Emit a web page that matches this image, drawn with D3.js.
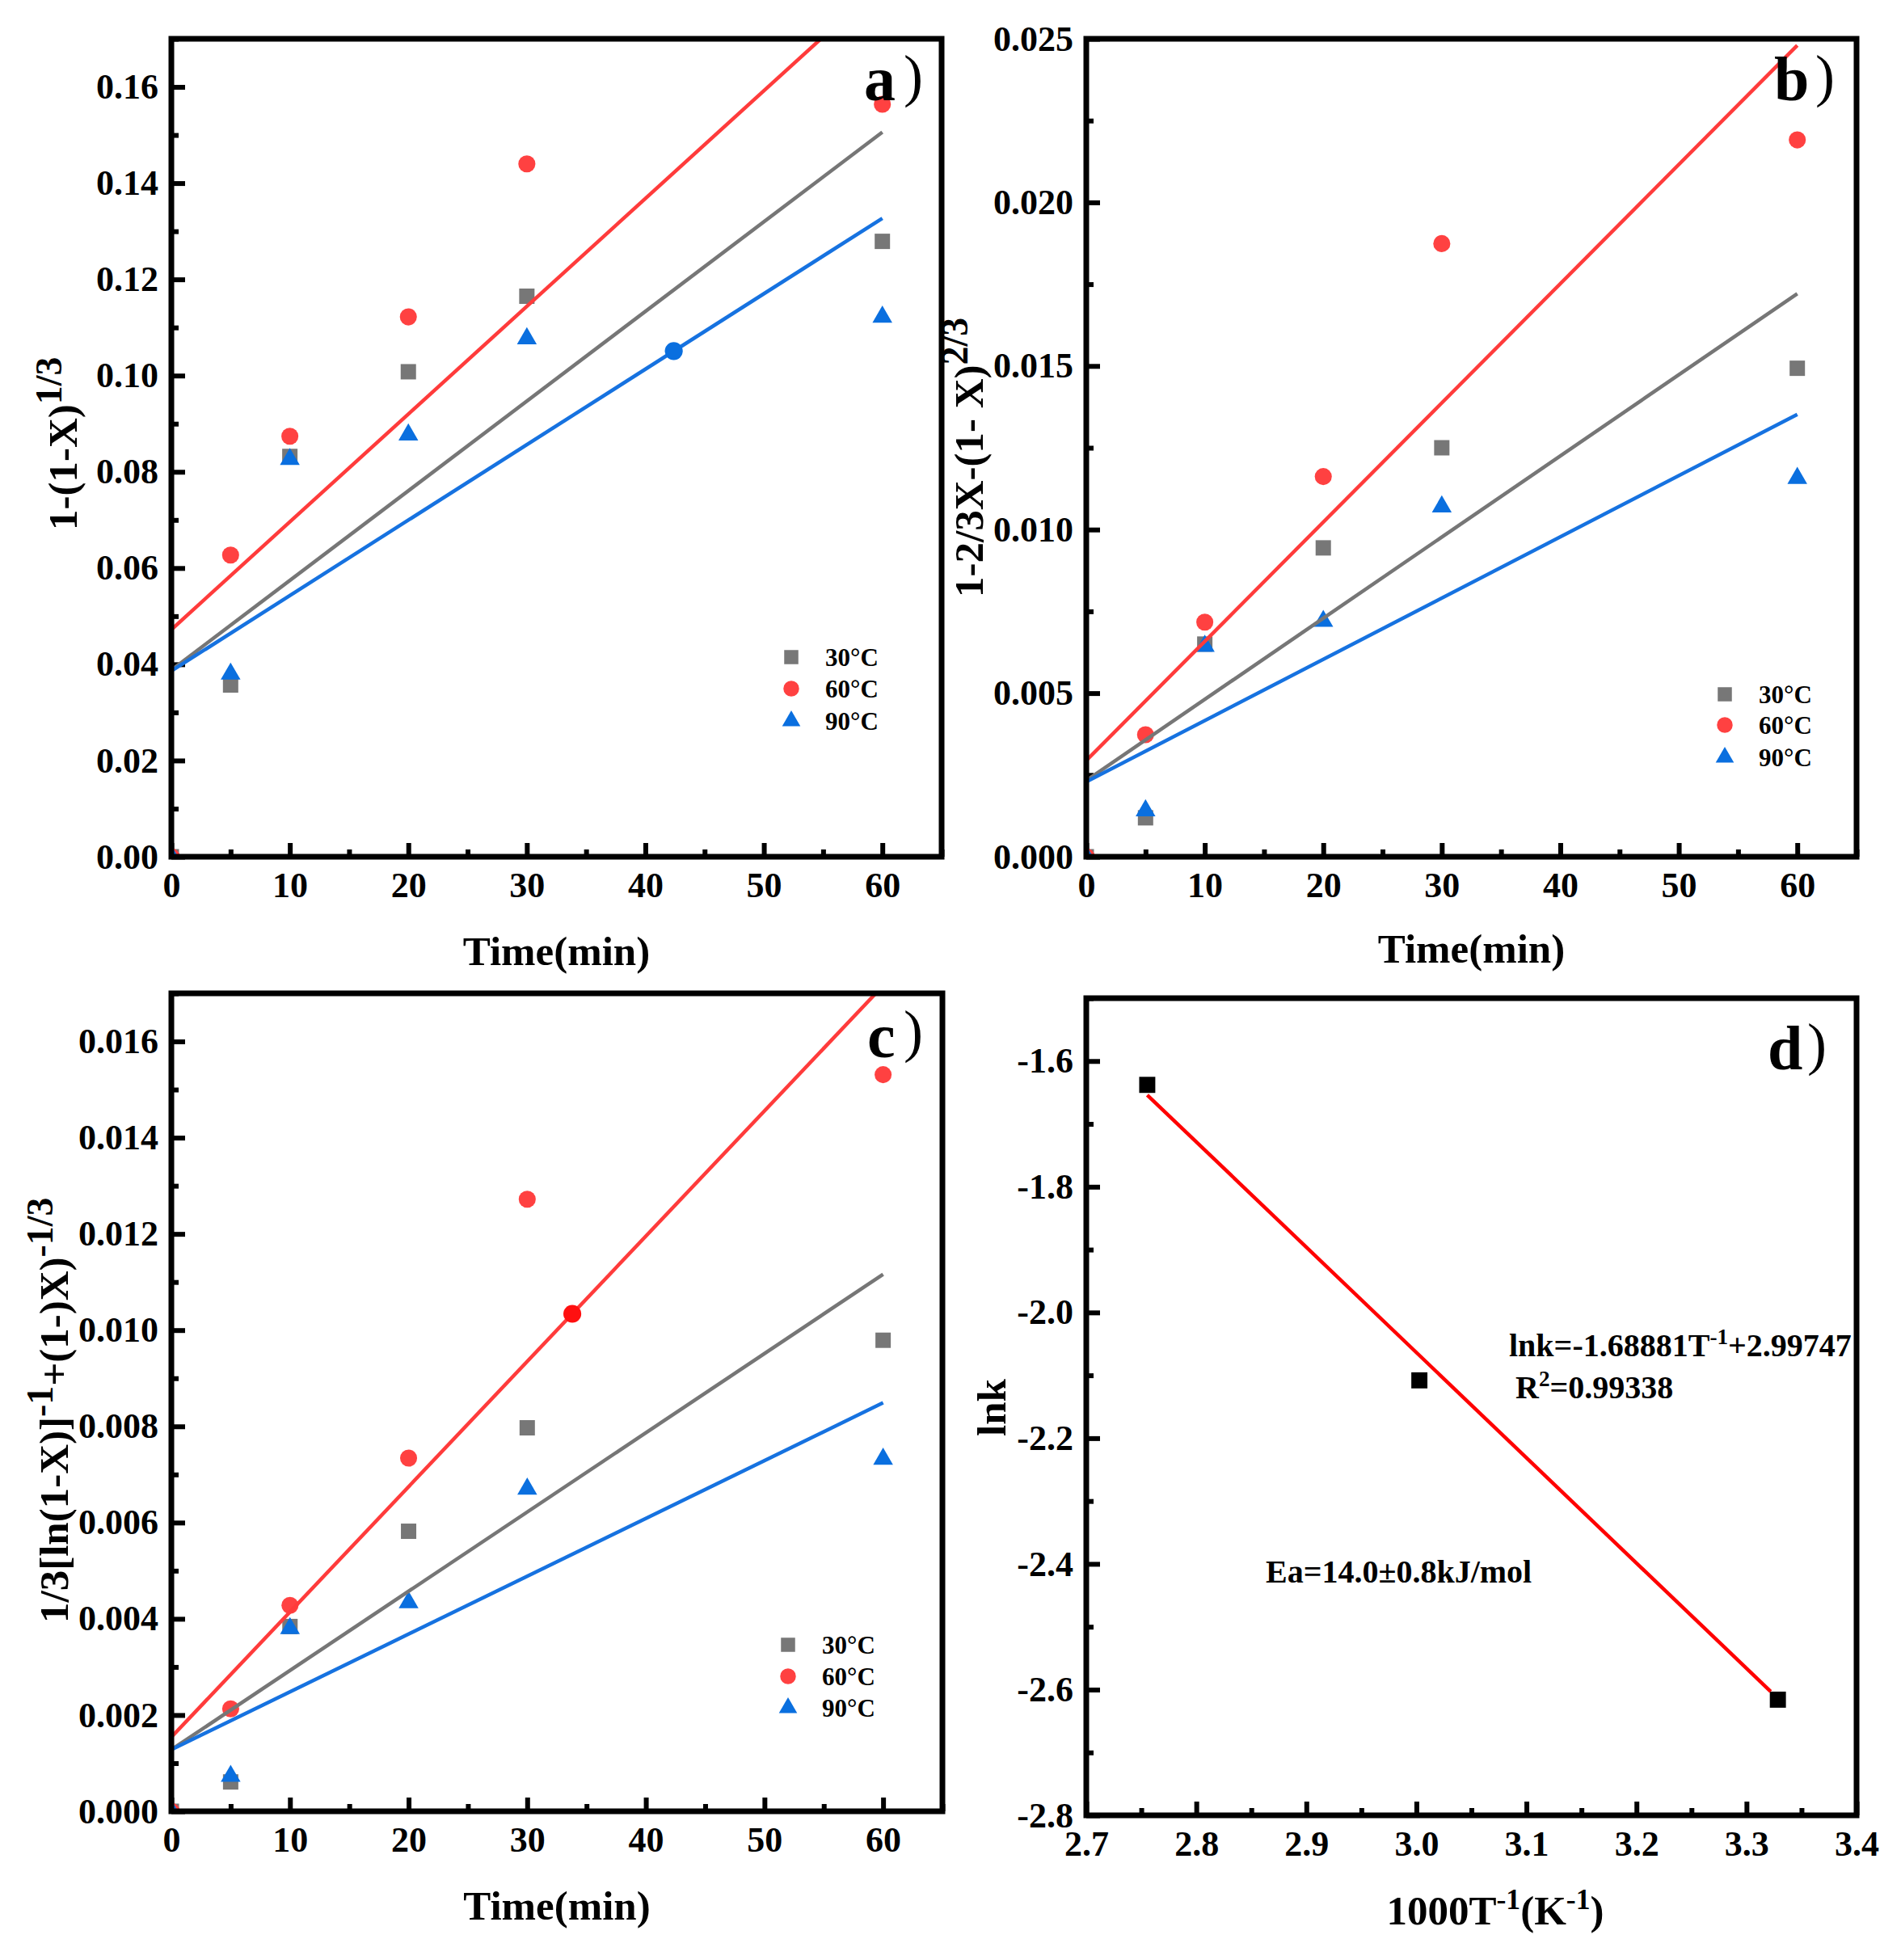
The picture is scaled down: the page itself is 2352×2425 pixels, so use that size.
<!DOCTYPE html>
<html><head><meta charset="utf-8">
<script src="https://cdn.jsdelivr.net/npm/d3@7"></script>
<style>body{margin:0;background:#fff}svg{display:block}</style>
</head><body>
<script>
// ---------- data ----------
const timeMin = [0, 5, 10, 20, 30, 60];
const seriesLabels = ["30°C", "60°C", "90°C"];
const fitT = [0, 60];

// panel a: 1-(1-X)^(1/3)
const a30 = [0, 0.0357, 0.0832, 0.1008, 0.1165, 0.1279];
const a60 = [0, 0.0627, 0.0874, 0.1122, 0.1440, 0.1564];
const a90 = [0, 0.0380, 0.0826, 0.0877, 0.1077, 0.1122];
const aFit30 = [0.0388, 0.1506];
const aFit60 = [0.0472, 0.1816];
const aFit90 = [0.0386, 0.1327];
const aExtra = [[42.4, 0.1051]];
const aYTicks = [0, 0.02, 0.04, 0.06, 0.08, 0.10, 0.12, 0.14, 0.16];

// panel b: 1-2/3X-(1-X)^(2/3)
const b30 = [0, 0.00119, 0.0065, 0.00944, 0.0125, 0.01493];
const b60 = [0, 0.00373, 0.00717, 0.01162, 0.01874, 0.02191];
const b90 = [0, 0.00141, 0.00644, 0.0072, 0.0107, 0.01157];
const bFit30 = [0.00233, 0.01721];
const bFit60 = [0.00294, 0.0248];
const bFit90 = [0.00229, 0.01352];
const bYTicks = [0, 0.005, 0.010, 0.015, 0.020, 0.025];

// panel c
const c30 = [0, 0.00061, 0.00384, 0.00582, 0.00797, 0.00979];
const c60 = [0, 0.00213, 0.00428, 0.00734, 0.01272, 0.01531];
const c90 = [0, 0.00073, 0.0038, 0.00434, 0.0067, 0.00732];
const cFit30 = [0.00128, 0.01116];
const cFit60 = [0.00154, 0.01716];
const cFit90 = [0.00128, 0.00849];
const cExtra = [[33.8, 0.01034]];
const cYTicks = [0, 0.002, 0.004, 0.006, 0.008, 0.010, 0.012, 0.014, 0.016];

const timeTicks = [0, 10, 20, 30, 40, 50, 60];
const timeMinor = [5, 15, 25, 35, 45, 55, 65];

// panel d: Arrhenius
const invT = [2.7554, 3.0027, 3.3285];
const lnk = [-1.6379, -2.108, -2.616];
const dFitX = [2.7554, 3.322];
const dFitY = [-1.654, -2.603];
const dXTicks = [2.7, 2.8, 2.9, 3.0, 3.1, 3.2, 3.3, 3.4];
const dXMinor = [2.75, 2.85, 2.95, 3.05, 3.15, 3.25, 3.35];
const dYTicks = [-2.8, -2.6, -2.4, -2.2, -2.0, -1.8, -1.6];
const dYMinor = [-2.7, -2.5, -2.3, -2.1, -1.9, -1.7, -1.5];
const eqText = "lnk=-1.68881T";
const eqTail = "+2.99747";
const r2Text = "=0.99338";
const eaText = "Ea=14.0±0.8kJ/mol";

// ---------- styling ----------
const FONT = "'Liberation Serif','Times New Roman',serif";
const COL = {gray: "#777777", red: "#ff4141", blue: "#0a6fdf"};
const LINECOL = {gray: "#767676", red: "#ff3b3b", blue: "#1672e0"};
const TICKFS = 44;

const svg = d3.select("body").append("svg").attr("width", 2352).attr("height", 2425)
  .style("font-family", FONT).style("font-weight", "bold");
svg.append("rect").attr("width", 2352).attr("height", 2425).attr("fill", "#fff");
const defs = svg.append("defs");

function styleAxis(sel) {
  sel.select(".domain").remove();
  sel.attr("font-family", FONT).attr("font-size", TICKFS).attr("font-weight", "bold");
  sel.selectAll(".tick line").attr("stroke", "#000").attr("stroke-width", 6);
  sel.selectAll(".tick text").attr("fill", "#000");
}

function makePanel(cfg) {
  const g = svg.append("g");
  const x = d3.scaleLinear().domain(cfg.xDomain).range([cfg.x0, cfg.x1]);
  const y = d3.scaleLinear().domain(cfg.yDomain).range([cfg.y1, cfg.y0]);
  const clipId = "clip" + cfg.id;
  defs.append("clipPath").attr("id", clipId).append("rect")
    .attr("x", cfg.x0).attr("y", cfg.y0).attr("width", cfg.x1 - cfg.x0).attr("height", cfg.y1 - cfg.y0);

  g.append("g").attr("transform", `translate(0,${cfg.y1})`)
    .call(d3.axisBottom(x).tickValues(cfg.xTicks).tickFormat(cfg.xFmt).tickSizeInner(-17).tickSizeOuter(0).tickPadding(19))
    .call(styleAxis);
  g.append("g").attr("transform", `translate(0,${cfg.y1})`)
    .call(d3.axisBottom(x).tickValues(cfg.xMinor).tickFormat("").tickSizeInner(-9).tickSizeOuter(0))
    .call(styleAxis);
  g.append("g").attr("transform", `translate(${cfg.x0},0)`)
    .call(d3.axisLeft(y).tickValues(cfg.yTicks).tickFormat(cfg.yFmt).tickSizeInner(-17).tickSizeOuter(0).tickPadding(16))
    .call(styleAxis);
  g.append("g").attr("transform", `translate(${cfg.x0},0)`)
    .call(d3.axisLeft(y).tickValues(cfg.yMinor).tickFormat("").tickSizeInner(-9).tickSizeOuter(0))
    .call(styleAxis);

  const plot = g.append("g").attr("clip-path", `url(#${clipId})`);
  return {g, x, y, plot};
}

function marker(sel, type, color, sizeScale) {
  const k = sizeScale || 1;
  const sym = type === "square" ? d3.symbolSquare : type === "circle" ? d3.symbolCircle : d3.symbolTriangle;
  const area = type === "square" ? 361 * k : type === "circle" ? 350 * k : 260 * k;
  sel.attr("d", d3.symbol().type(sym).size(area)()).attr("fill", color);
}

function frame(p, cfg) {
  p.g.append("rect").attr("x", cfg.x0).attr("y", cfg.y0)
    .attr("width", cfg.x1 - cfg.x0).attr("height", cfg.y1 - cfg.y0)
    .attr("fill", "none").attr("stroke", "#000").attr("stroke-width", 7);
}

function panelLabel(letter, lx, lb, px, pb) {
  svg.append("text").attr("x", lx).attr("y", lb).attr("font-size", 78).text(letter);
  svg.append("text").attr("x", px).attr("y", pb).attr("font-size", 72).attr("font-weight", "normal").text(")");
}

// rich text: parts [{t}|{sup}], superscripts raised
function richText(t, parts, fs, supScale) {
  const shift = fs * 0.38;
  let raised = false;
  parts.forEach(pt => {
    const s = t.append("tspan");
    if (pt.sup) {
      s.attr("font-size", fs * supScale).attr("dy", raised ? 0 : -shift).text(pt.sup);
      raised = true;
    } else {
      if (raised) s.attr("dy", shift);
      raised = false;
      s.text(pt.t);
    }
  });
}

function yTitle(parts, startY, baseX, fs) {
  const t = svg.append("text").attr("transform", "rotate(-90)")
    .attr("x", -startY).attr("y", baseX).attr("font-size", fs).attr("text-anchor", "start");
  richText(t, parts, fs, 0.9);
  return t;
}

function kineticPanel(cfg) {
  const p = makePanel(cfg);
  const series = [
    {vals: cfg.s30, fit: cfg.f30, type: "square", c: "gray"},
    {vals: cfg.s60, fit: cfg.f60, type: "circle", c: "red"},
    {vals: cfg.s90, fit: cfg.f90, type: "triangle", c: "blue"}
  ];
  series.forEach(s => {
    p.plot.selectAll(null).data(timeMin.map((t, i) => [t, s.vals[i]])).join("path")
      .attr("transform", d => `translate(${p.x(d[0])},${p.y(d[1])})`)
      .call(sel => marker(sel, s.type, COL[s.c]));
  });
  const line = d3.line().x(d => p.x(d[0])).y(d => p.y(d[1]));
  series.forEach(s => {
    p.plot.append("path").datum(fitT.map((t, i) => [t, s.fit[i]]))
      .attr("d", line).attr("fill", "none").attr("stroke", LINECOL[s.c]).attr("stroke-width", 4.5);
  });
  if (cfg.extra) {
    p.plot.selectAll(null).data(cfg.extra).join("path")
      .attr("transform", d => `translate(${p.x(d[0])},${p.y(d[1])})`)
      .call(sel => marker(sel, "circle", cfg.extraColor, 1.1));
  }
  series.forEach((s, i) => {
    const ly = cfg.legY[i];
    svg.append("path").attr("transform", `translate(${cfg.legX},${ly})`)
      .call(sel => marker(sel, s.type, COL[s.c], 0.85));
    svg.append("text").attr("x", cfg.legX + 42).attr("y", ly).attr("dy", "0.35em")
      .attr("font-size", 31).text(seriesLabels[i]);
  });
  frame(p, cfg);
  svg.append("text").attr("x", (cfg.x0 + cfg.x1) / 2).attr("y", cfg.xTitleY)
    .attr("text-anchor", "middle").attr("font-size", 51).text("Time(min)");
  return p;
}

const f2 = d3.format(".2f"), f3 = d3.format(".3f");
const f1h = v => d3.format(".1f")(v).replace("\u2212", "-");

// a
kineticPanel({id: "a", x0: 212, x1: 1165, y0: 48, y1: 1060, xDomain: [0, 65], yDomain: [0, 0.17],
  xTicks: timeTicks, xMinor: timeMinor, xFmt: d3.format("d"),
  yTicks: aYTicks, yMinor: [0.01, 0.03, 0.05, 0.07, 0.09, 0.11, 0.13, 0.15, 0.17], yFmt: f2,
  s30: a30, s60: a60, s90: a90, f30: aFit30, f60: aFit60, f90: aFit90,
  extra: aExtra, extraColor: COL.blue,
  legX: 979, legY: [813, 852, 892], xTitleY: 1194});
yTitle([{t: "1-(1-X)"}, {sup: "1/3"}], 656, 95, 51);
panelLabel("a", 1069, 124, 1118, 118);

// b
kineticPanel({id: "b", x0: 1344, x1: 2297, y0: 48, y1: 1060, xDomain: [0, 65], yDomain: [0, 0.025],
  xTicks: timeTicks, xMinor: timeMinor, xFmt: d3.format("d"),
  yTicks: bYTicks, yMinor: [0.0025, 0.0075, 0.0125, 0.0175, 0.0225], yFmt: f3,
  s30: b30, s60: b60, s90: b90, f30: bFit30, f60: bFit60, f90: bFit90,
  legX: 2134, legY: [859, 897, 937], xTitleY: 1191});
yTitle([{t: "1-2/3X-(1- X)"}, {sup: "2/3"}], 739, 1216, 51);
panelLabel("b", 2195, 124, 2246, 118);

// c
kineticPanel({id: "c", x0: 212, x1: 1166, y0: 1229, y1: 2241, xDomain: [0, 65], yDomain: [0, 0.017],
  xTicks: timeTicks, xMinor: timeMinor, xFmt: d3.format("d"),
  yTicks: cYTicks, yMinor: [0.001, 0.003, 0.005, 0.007, 0.009, 0.011, 0.013, 0.015, 0.017], yFmt: f3,
  s30: c30, s60: c60, s90: c90, f30: cFit30, f60: cFit60, f90: cFit90,
  extra: cExtra, extraColor: "#ff1010",
  legX: 975, legY: [2035, 2074, 2113], xTitleY: 2375});
yTitle([{t: "1/3[ln(1-X)]"}, {sup: "-1"}, {t: "+(1-)X)"}, {sup: "-1/3"}], 2008, 84, 51);
panelLabel("c", 1073, 1308, 1118, 1300);

// d
(function () {
  const cfg = {id: "d", x0: 1344, x1: 2297, y0: 1235, y1: 2246, xDomain: [2.7, 3.4], yDomain: [-2.8, -1.5],
    xTicks: dXTicks, xMinor: dXMinor, xFmt: f1h, yTicks: dYTicks, yMinor: dYMinor, yFmt: f1h};
  const p = makePanel(cfg);
  p.plot.selectAll(null).data(invT.map((v, i) => [v, lnk[i]])).join("path")
    .attr("transform", d => `translate(${p.x(d[0])},${p.y(d[1])})`)
    .call(sel => marker(sel, "square", "#000", 1.1));
  p.plot.append("path").datum(dFitX.map((v, i) => [v, dFitY[i]]))
    .attr("d", d3.line().x(d => p.x(d[0])).y(d => p.y(d[1])))
    .attr("fill", "none").attr("stroke", "#ff0000").attr("stroke-width", 4.5);
  frame(p, cfg);

  const eq = svg.append("text").attr("x", 1867).attr("y", 1678).attr("font-size", 40);
  richText(eq, [{t: eqText}, {sup: "-1"}, {t: eqTail}], 40, 0.68);
  const r2 = svg.append("text").attr("x", 1875).attr("y", 1730).attr("font-size", 40);
  richText(r2, [{t: "R"}, {sup: "2"}, {t: r2Text}], 40, 0.68);
  svg.append("text").attr("x", 1566).attr("y", 1958).attr("font-size", 40).text(eaText);

  const xt = svg.append("text").attr("x", 1850).attr("y", 2381).attr("text-anchor", "middle").attr("font-size", 51);
  richText(xt, [{t: "1000T"}, {sup: "-1"}, {t: "(K"}, {sup: "-1"}, {t: ")"}], 51, 0.7);

  yTitle([{t: "lnk"}], 1777, 1244, 51);
  panelLabel("d", 2187, 1323, 2236, 1316);
})();
</script>
</body></html>
